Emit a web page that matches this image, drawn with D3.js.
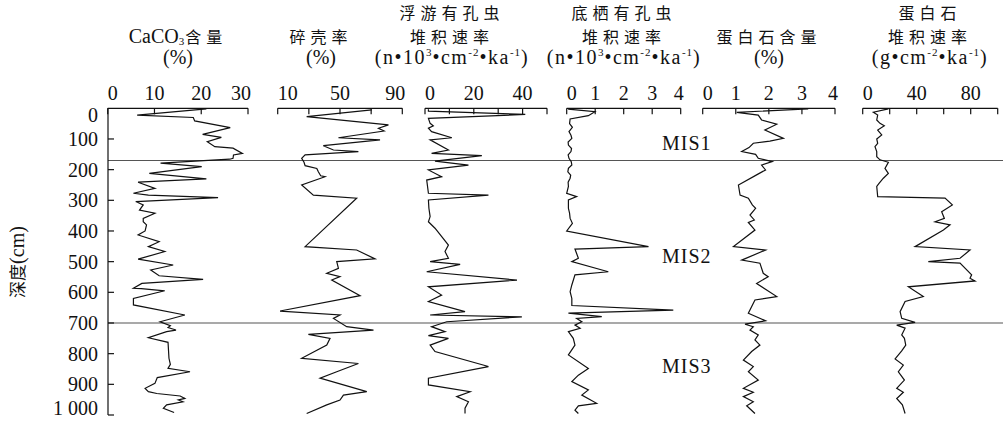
<!DOCTYPE html>
<html><head><meta charset="utf-8">
<script src="https://cdn.jsdelivr.net/npm/d3@7"></script>
<style>body{margin:0;background:#fff}svg{display:block}</style>
</head><body>
<svg id="c" width="1003" height="423"></svg>
<script>
// ---- data (depth cm, value) ----
const depthTicks = [0,100,200,300,400,500,600,700,800,900,1000];
const depthTickLabels = ["0","100","200","300","400","500","600","700","800","900","1 000"];
const misBoundaries = [170, 700];
const misNames = ["MIS1","MIS2","MIS3"];
const misLabelDepths = [136, 505, 864];

const caco3 = [[2,21.1],[22,6.3],[30,18.3],[41,18.6],[63,26.2],[85,20.3],[95,24.3],[109,21.3],[125,22.9],[130,26.8],[147,28.8],[152,26.9],[163,26.8],[166,26.1],[179,11.3],[190,20.1],[212,8.9],[230,21.1],[241,6.5],[261,10.1],[277,5.5],[283,8.7],[291,23.6],[304,6.0],[315,7.6],[332,6.8],[342,10.1],[359,7.6],[370,7.6],[380,8.3],[400,8.0],[413,6.5],[435,11.0],[451,8.7],[467,12.2],[492,6.5],[511,14.0],[527,9.2],[546,11.0],[558,20.4],[571,7.3],[587,5.5],[588,7.2],[595,12.2],[620,5.5],[641,5.5],[674,16.5],[696,11.2],[709,13.4],[715,12.9],[723,14.6],[728,12.6],[748,8.7],[763,12.9],[815,13.1],[835,13.4],[848,12.9],[859,17.6],[878,10.6],[897,10.1],[913,8.0],[924,8.7],[930,10.5],[938,15.5],[946,16.5],[951,15.1],[957,16.1],[967,12.6],[978,11.9],[992,14.2]];
const shellFragments = [[5,70.4],[27,28.6],[54,81.1],[65,74.7],[74,78.3],[96,49.0],[103,75.7],[122,39.3],[136,45.8],[141,61.8],[152,27.6],[163,25.4],[176,26.9],[187,27.6],[196,35.1],[207,36.1],[220,37.6],[223,40.4],[250,25.4],[283,32.9],[293,60.7],[451,27.6],[462,60.7],[491,72.5],[500,47.9],[522,49.0],[538,41.5],[549,50.0],[560,44.7],[611,62.9],[661,11.5],[674,50.0],[685,45.8],[712,54.3],[723,71.5],[737,29.7],[750,43.6],[772,41.5],[815,25.4],[832,61.8],[859,47.9],[880,37.2],[924,67.2],[935,52.2],[951,50.0],[967,41.5],[995,28.6]];
const planktonicMAR = [[3,1.4],[9,1.4],[20,41.1],[33,1.4],[49,2.1],[57,3.4],[65,1.4],[76,2.7],[96,11.0],[103,2.1],[136,9.6],[147,2.7],[154,23.3],[172,4.1],[185,17.8],[201,1.4],[223,6.8],[234,0.7],[277,1.4],[283,26.0],[299,1.4],[326,1.6],[353,2.1],[370,1.4],[391,4.1],[446,9.6],[467,8.2],[489,9.6],[500,2.1],[509,14.4],[533,0.7],[560,37.7],[582,1.4],[609,6.8],[630,1.4],[663,16.4],[674,2.1],[680,39.7],[696,8.9],[712,2.7],[728,8.2],[741,1.4],[750,9.6],[772,2.1],[793,4.1],[842,26.0],[880,1.4],[902,1.4],[924,18.5],[940,13.0],[957,17.8],[978,16.4],[995,16.4]];
const benthicMAR = [[3,0.05],[11,0.99],[24,0.76],[35,0.12],[50,0.10],[62,0.20],[76,0.08],[88,0.15],[98,0.18],[110,0.05],[120,0.06],[131,0.17],[141,0.15],[152,0.05],[163,0.08],[174,0.16],[185,0.18],[196,0.06],[207,0.04],[218,0.14],[228,0.12],[241,0.05],[255,0.06],[277,0.0],[288,0.35],[299,0.06],[326,0.06],[342,0.10],[359,0.12],[375,0.20],[400,0.0],[451,2.87],[459,0.29],[489,0.41],[500,0.18],[533,1.46],[543,0.29],[576,0.18],[598,0.12],[620,0.18],[643,0.18],[658,3.74],[668,0.06],[679,1.23],[685,0.35],[696,0.53],[707,0.29],[717,0.47],[728,0.06],[750,0.23],[772,0.29],[804,0.06],[848,0.76],[870,0.41],[891,0.18],[918,0.76],[935,0.53],[962,1.05],[970,0.41],[984,0.29],[995,0.41]];
const opalContent = [[2,3.19],[13,1.03],[22,1.68],[38,1.78],[52,2.24],[71,1.88],[98,2.44],[107,2.03],[114,1.53],[128,1.40],[141,1.18],[150,1.60],[163,1.68],[174,2.10],[185,1.78],[201,1.90],[217,1.63],[250,1.08],[283,1.13],[293,1.38],[315,1.50],[326,1.60],[348,1.43],[364,1.56],[372,1.38],[397,1.58],[451,0.93],[462,1.90],[495,1.18],[505,1.73],[538,1.83],[549,1.98],[571,1.63],[614,2.24],[625,1.58],[668,1.38],[693,1.90],[704,1.28],[712,1.53],[723,1.43],[739,1.68],[755,1.58],[772,1.73],[793,1.48],[821,1.23],[842,1.53],[859,1.38],[886,1.68],[913,1.23],[926,1.53],[940,1.23],[957,1.53],[970,1.33],[995,1.58]];
const opalMAR = [[2,19.0],[13,7.9],[22,11.1],[38,10.4],[49,12.8],[57,16.0],[71,11.1],[87,14.1],[100,10.4],[114,11.1],[125,9.1],[141,10.4],[158,10.4],[168,12.8],[176,19.0],[196,16.5],[212,19.0],[228,15.3],[245,12.1],[255,10.4],[288,11.1],[293,61.0],[315,66.4],[337,58.5],[359,60.5],[370,53.6],[380,64.7],[397,59.8],[451,38.8],[462,79.5],[489,72.1],[500,48.6],[505,72.1],[543,80.7],[554,79.5],[563,83.2],[582,33.8],[614,44.9],[630,31.4],[663,27.7],[685,28.9],[698,38.8],[707,25.2],[717,31.4],[739,28.9],[750,30.9],[772,31.9],[791,28.9],[817,24.0],[837,30.1],[859,26.4],[886,30.9],[913,25.2],[926,30.1],[946,25.2],[967,29.4],[995,31.4]];

const caco3Ticks = [0,10,20,30], caco3Labels = [0,10,20,30];
const shellTicks = [10,30,50,70,90], shellLabels = [10,50,90];
const plankTicks = [0,10,20,30,40,50], plankLabels = [0,20,40];
const benthTicks = [0,1,2,3,4], benthLabels = [0,1,2,3,4];
const opalTicks = [0,1,2,3,4], opalLabels = [0,1,2,3,4];
const opalMarTicks = [0,20,40,60,80,100], opalMarLabels = [0,40,80];

// ---- layout ----
const SERIF = "'Liberation Serif','Times New Roman',serif";
const CJK = "'Noto Sans CJK SC','Noto Sans CJK JP',sans-serif";
const svg = d3.select('#c');
const y = d3.scaleLinear().domain([0,1000]).range([108.3,415]);
const AXY = y(0);

const panels = [
  {data:caco3, domain:[0,30], range:[107.7,248], ticks:caco3Ticks, labels:caco3Labels, tx:178,
   title:[null,[["CaCO","lat"],["3","sub"],["含量","cjk"]],[["(%)","lat"]]]},
  {data:shellFragments, domain:[10,90], range:[277.7,402.3], ticks:shellTicks, labels:shellLabels, tx:321,
   title:[null,[["碎壳率","cjk"]],[["(%)","lat"]]]},
  {data:planktonicMAR, domain:[0,50], range:[425,547], ticks:plankTicks, labels:plankLabels, tx:452,
   title:[[["浮游有孔虫","cjk"]],[["堆积速率","cjk"]],[["(n•10","unit"],["3","sup"],["•cm","unit"],["-2","sup"],["•ka","unit"],["-1","sup"],[")","unit"]]]},
  {data:benthicMAR, domain:[0,4], range:[566.7,680.7], ticks:benthTicks, labels:benthLabels, tx:624,
   title:[[["底栖有孔虫","cjk"]],[["堆积速率","cjk"]],[["(n•10","unit"],["3","sup"],["•cm","unit"],["-2","sup"],["•ka","unit"],["-1","sup"],[")","unit"]]]},
  {data:opalContent, domain:[0,4], range:[702.7,835], ticks:opalTicks, labels:opalLabels, tx:769,
   title:[null,[["蛋白石含量","cjk"]],[["(%)","lat"]]]},
  {data:opalMAR, domain:[0,100], range:[862.7,997.7], ticks:opalMarTicks, labels:opalMarLabels, tx:930,
   title:[[["蛋白石","cjk"]],[["堆积速率","cjk"]],[["(g•cm","unit"],["-2","sup"],["•ka","unit"],["-1","sup"],[")","unit"]]]}
];
const lineY = [19, 43, 64];

function addLine(x, yy, segs){
  const allCjk = segs.every(s=>s[1]==='cjk');
  const t = svg.append('text').attr('x',x).attr('y',yy).attr('text-anchor','middle').attr('fill','#111')
    .attr('font-family', allCjk ? CJK : SERIF).attr('font-size', allCjk ? 16 : 20);
  let shift = 0;
  segs.forEach(([s,k])=>{
    const ts = t.append('tspan').text(s);
    const target = k==='sup' ? -8 : (k==='sub' ? 2 : 0);
    if (target !== shift) ts.attr('dy', target - shift);
    shift = target;
    if (k==='cjk') ts.attr('font-family',CJK).attr('font-size',16).attr('letter-spacing',5);
    else if (k==='sup' || k==='sub') ts.attr('font-family',SERIF).attr('font-size',11).attr('letter-spacing',1);
    else if (k==='unit') ts.attr('font-family',SERIF).attr('font-size',20).attr('letter-spacing',1.5);
    else ts.attr('font-family',SERIF).attr('font-size',20);
  });
  return t;
}

// MIS boundary lines
svg.append('g').selectAll('line').data(misBoundaries).join('line')
  .attr('x1',108).attr('x2',1003).attr('y1',d=>y(d)).attr('y2',d=>y(d))
  .attr('stroke','#555').attr('stroke-width',1.1);

panels.forEach(p=>{
  const x = d3.scaleLinear().domain(p.domain).range(p.range);
  const g = svg.append('g');
  g.append('line').attr('x1',x(p.domain[0])).attr('x2',x(p.domain[1]))
    .attr('y1',AXY).attr('y2',AXY).attr('stroke','#111').attr('stroke-width',1.2);
  g.selectAll('.tk').data(p.ticks).join('line').attr('class','tk')
    .attr('x1',d=>x(d)).attr('x2',d=>x(d)).attr('y1',AXY).attr('y2',AXY+6)
    .attr('stroke','#111').attr('stroke-width',1.2);
  g.selectAll('.tl').data(p.labels).join('text').attr('class','tl')
    .attr('x',d=> d===p.domain[0] ? x(d) : (d===p.domain[1] ? x(d)+3 : x(d)))
    .attr('y',100)
    .attr('text-anchor',d=> d===p.domain[0] ? 'start' : (d===p.domain[1] ? 'end' : 'middle'))
    .attr('font-family',SERIF).attr('font-size',20).attr('fill','#111')
    .text(d=>d);
  const line = d3.line().x(d=>x(d[1])).y(d=>y(d[0]));
  g.append('path').datum(p.data).attr('d',line)
    .attr('fill','none').attr('stroke','#111').attr('stroke-width',1.2).attr('stroke-linejoin','miter');
  p.title.forEach((segs,i)=>{ if(segs) addLine(p.tx, lineY[i], segs); });
});

// left depth axis
const ya = svg.append('g');
ya.append('line').attr('x1',108).attr('x2',108).attr('y1',y(0)).attr('y2',y(1000))
  .attr('stroke','#111').attr('stroke-width',1.2);
ya.selectAll('.yt').data(depthTicks.slice(1)).join('line').attr('class','yt')
  .attr('x1',108).attr('x2',114).attr('y1',d=>y(d)).attr('y2',d=>y(d))
  .attr('stroke','#111').attr('stroke-width',1.2);
ya.selectAll('.yl').data(depthTicks).join('text').attr('class','yl')
  .attr('x',98).attr('y',d=>y(d) + (d===0 ? 14 : d===1000 ? 0 : 7))
  .attr('text-anchor','end').attr('font-family',SERIF).attr('font-size',20).attr('fill','#111')
  .text((d,i)=>depthTickLabels[i]);

// y title
const yt = svg.append('text').attr('transform','translate(24,262) rotate(-90)')
  .attr('text-anchor','middle').attr('fill','#111');
yt.append('tspan').attr('font-family',CJK).attr('font-size',17).text('深度');
yt.append('tspan').attr('font-family',SERIF).attr('font-size',20).text('(cm)');

// MIS labels
svg.append('g').selectAll('text').data(misNames).join('text')
  .attr('x',662).attr('y',(d,i)=>y(misLabelDepths[i]))
  .attr('font-family',SERIF).attr('font-size',20).attr('letter-spacing',1).attr('fill','#111')
  .text(d=>d);
</script>
</body></html>
